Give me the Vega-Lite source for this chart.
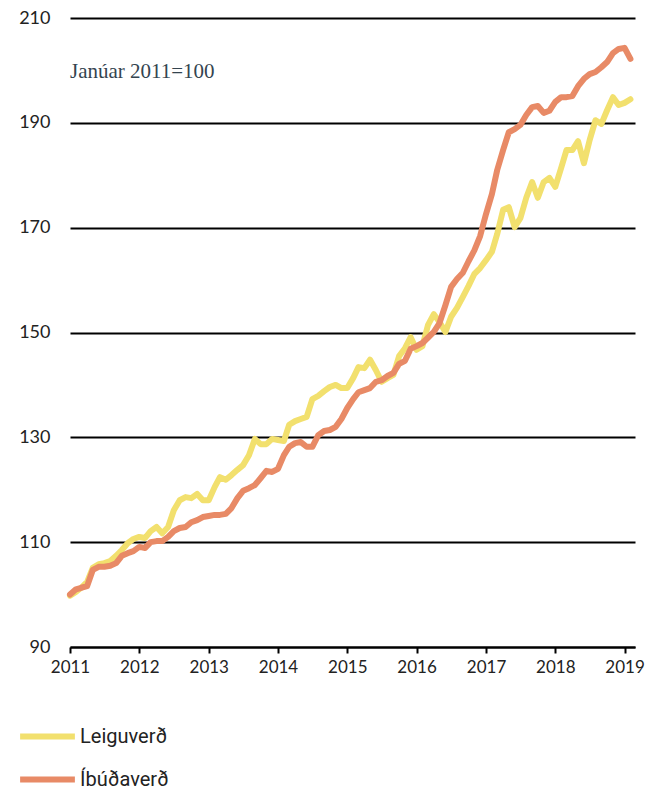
{
  "$schema": "https://vega.github.io/schema/vega-lite/v6.json",
  "autosize": "none",
  "width": 565,
  "height": 629,
  "padding": {"left": 70, "top": 18, "right": 29, "bottom": 142},
  "background": "white",
  "config": {"view": {"stroke": null}},
  "datasets": {
    "idx": [
      {"m":"2011-01-01","Leiguverð":99.8,"Íbúðaverð":100.0},
      {"m":"2011-02-01","Leiguverð":100.5,"Íbúðaverð":101.0},
      {"m":"2011-03-01","Leiguverð":101.3,"Íbúðaverð":101.3},
      {"m":"2011-04-01","Leiguverð":102.4,"Íbúðaverð":101.6},
      {"m":"2011-05-01","Leiguverð":105.1,"Íbúðaverð":104.7},
      {"m":"2011-06-01","Leiguverð":105.8,"Íbúðaverð":105.3},
      {"m":"2011-07-01","Leiguverð":106.0,"Íbúðaverð":105.3},
      {"m":"2011-08-01","Leiguverð":106.4,"Íbúðaverð":105.5},
      {"m":"2011-09-01","Leiguverð":107.4,"Íbúðaverð":106.0},
      {"m":"2011-10-01","Leiguverð":108.5,"Íbúðaverð":107.4},
      {"m":"2011-11-01","Leiguverð":109.8,"Íbúðaverð":107.9},
      {"m":"2011-12-01","Leiguverð":110.6,"Íbúðaverð":108.3},
      {"m":"2012-01-01","Leiguverð":111.0,"Íbúðaverð":109.1},
      {"m":"2012-02-01","Leiguverð":110.8,"Íbúðaverð":108.9},
      {"m":"2012-03-01","Leiguverð":112.1,"Íbúðaverð":110.0},
      {"m":"2012-04-01","Leiguverð":112.9,"Íbúðaverð":110.2},
      {"m":"2012-05-01","Leiguverð":111.7,"Íbúðaverð":110.2},
      {"m":"2012-06-01","Leiguverð":112.9,"Íbúðaverð":111.0},
      {"m":"2012-07-01","Leiguverð":116.1,"Íbúðaverð":112.1},
      {"m":"2012-08-01","Leiguverð":118.0,"Íbúðaverð":112.7},
      {"m":"2012-09-01","Leiguverð":118.6,"Íbúðaverð":112.9},
      {"m":"2012-10-01","Leiguverð":118.4,"Íbúðaverð":113.8},
      {"m":"2012-11-01","Leiguverð":119.2,"Íbúðaverð":114.2},
      {"m":"2012-12-01","Leiguverð":118.0,"Íbúðaverð":114.8},
      {"m":"2013-01-01","Leiguverð":118.0,"Íbúðaverð":115.0},
      {"m":"2013-02-01","Leiguverð":120.5,"Íbúðaverð":115.2},
      {"m":"2013-03-01","Leiguverð":122.4,"Íbúðaverð":115.2},
      {"m":"2013-04-01","Leiguverð":121.9,"Íbúðaverð":115.4},
      {"m":"2013-05-01","Leiguverð":122.8,"Íbúðaverð":116.5},
      {"m":"2013-06-01","Leiguverð":123.8,"Íbúðaverð":118.4},
      {"m":"2013-07-01","Leiguverð":124.7,"Íbúðaverð":119.8},
      {"m":"2013-08-01","Leiguverð":126.6,"Íbúðaverð":120.3},
      {"m":"2013-09-01","Leiguverð":129.7,"Íbúðaverð":120.9},
      {"m":"2013-10-01","Leiguverð":128.7,"Íbúðaverð":122.2},
      {"m":"2013-11-01","Leiguverð":128.7,"Íbúðaverð":123.6},
      {"m":"2013-12-01","Leiguverð":129.7,"Íbúðaverð":123.4},
      {"m":"2014-01-01","Leiguverð":129.5,"Íbúðaverð":124.0},
      {"m":"2014-02-01","Leiguverð":129.3,"Íbúðaverð":126.6},
      {"m":"2014-03-01","Leiguverð":132.4,"Íbúðaverð":128.2},
      {"m":"2014-04-01","Leiguverð":133.1,"Íbúðaverð":128.9},
      {"m":"2014-05-01","Leiguverð":133.5,"Íbúðaverð":129.1},
      {"m":"2014-06-01","Leiguverð":133.9,"Íbúðaverð":128.2},
      {"m":"2014-07-01","Leiguverð":137.3,"Íbúðaverð":128.2},
      {"m":"2014-08-01","Leiguverð":137.9,"Íbúðaverð":130.4},
      {"m":"2014-09-01","Leiguverð":138.8,"Íbúðaverð":131.2},
      {"m":"2014-10-01","Leiguverð":139.6,"Íbúðaverð":131.4},
      {"m":"2014-11-01","Leiguverð":140.0,"Íbúðaverð":132.0},
      {"m":"2014-12-01","Leiguverð":139.4,"Íbúðaverð":133.5},
      {"m":"2015-01-01","Leiguverð":139.4,"Íbúðaverð":135.6},
      {"m":"2015-02-01","Leiguverð":141.3,"Íbúðaverð":137.3},
      {"m":"2015-03-01","Leiguverð":143.4,"Íbúðaverð":138.6},
      {"m":"2015-04-01","Leiguverð":143.2,"Íbúðaverð":139.0},
      {"m":"2015-05-01","Leiguverð":144.8,"Íbúðaverð":139.4},
      {"m":"2015-06-01","Leiguverð":142.8,"Íbúðaverð":140.6},
      {"m":"2015-07-01","Leiguverð":140.6,"Íbúðaverð":140.9},
      {"m":"2015-08-01","Leiguverð":141.3,"Íbúðaverð":141.7},
      {"m":"2015-09-01","Leiguverð":141.9,"Íbúðaverð":142.3},
      {"m":"2015-10-01","Leiguverð":145.5,"Íbúðaverð":144.0},
      {"m":"2015-11-01","Leiguverð":147.0,"Íbúðaverð":144.6},
      {"m":"2015-12-01","Leiguverð":149.1,"Íbúðaverð":146.9},
      {"m":"2016-01-01","Leiguverð":146.7,"Íbúðaverð":147.4},
      {"m":"2016-02-01","Leiguverð":147.4,"Íbúðaverð":148.0},
      {"m":"2016-03-01","Leiguverð":151.4,"Íbúðaverð":149.0},
      {"m":"2016-04-01","Leiguverð":153.5,"Íbúðaverð":150.1},
      {"m":"2016-05-01","Leiguverð":152.0,"Íbúðaverð":151.8},
      {"m":"2016-06-01","Leiguverð":150.1,"Íbúðaverð":155.2},
      {"m":"2016-07-01","Leiguverð":153.0,"Íbúðaverð":158.7},
      {"m":"2016-08-01","Leiguverð":154.7,"Íbúðaverð":160.2},
      {"m":"2016-09-01","Leiguverð":156.8,"Íbúðaverð":161.4},
      {"m":"2016-10-01","Leiguverð":158.9,"Íbúðaverð":163.6},
      {"m":"2016-11-01","Leiguverð":161.2,"Íbúðaverð":165.7},
      {"m":"2016-12-01","Leiguverð":162.3,"Íbúðaverð":168.4},
      {"m":"2017-01-01","Leiguverð":163.8,"Íbúðaverð":172.6},
      {"m":"2017-02-01","Leiguverð":165.4,"Íbúðaverð":176.4},
      {"m":"2017-03-01","Leiguverð":168.8,"Íbúðaverð":181.0},
      {"m":"2017-04-01","Leiguverð":173.4,"Íbúðaverð":184.8},
      {"m":"2017-05-01","Leiguverð":173.9,"Íbúðaverð":188.2},
      {"m":"2017-06-01","Leiguverð":170.1,"Íbúðaverð":188.8},
      {"m":"2017-07-01","Leiguverð":171.8,"Íbúðaverð":189.6},
      {"m":"2017-08-01","Leiguverð":175.7,"Íbúðaverð":191.5},
      {"m":"2017-09-01","Leiguverð":178.7,"Íbúðaverð":193.0},
      {"m":"2017-10-01","Leiguverð":175.7,"Íbúðaverð":193.2},
      {"m":"2017-11-01","Leiguverð":178.7,"Íbúðaverð":191.9},
      {"m":"2017-12-01","Leiguverð":179.5,"Íbúðaverð":192.3},
      {"m":"2018-01-01","Leiguverð":177.8,"Íbúðaverð":194.0},
      {"m":"2018-02-01","Leiguverð":181.4,"Íbúðaverð":194.9},
      {"m":"2018-03-01","Leiguverð":184.8,"Íbúðaverð":194.9},
      {"m":"2018-04-01","Leiguverð":184.8,"Íbúðaverð":195.1},
      {"m":"2018-05-01","Leiguverð":186.5,"Íbúðaverð":197.0},
      {"m":"2018-06-01","Leiguverð":182.3,"Íbúðaverð":198.4},
      {"m":"2018-07-01","Leiguverð":186.7,"Íbúðaverð":199.3},
      {"m":"2018-08-01","Leiguverð":190.5,"Íbúðaverð":199.7},
      {"m":"2018-09-01","Leiguverð":189.8,"Íbúðaverð":200.6},
      {"m":"2018-10-01","Leiguverð":192.4,"Íbúðaverð":201.6},
      {"m":"2018-11-01","Leiguverð":194.9,"Íbúðaverð":203.3},
      {"m":"2018-12-01","Leiguverð":193.4,"Íbúðaverð":204.1},
      {"m":"2019-01-01","Leiguverð":193.8,"Íbúðaverð":204.3},
      {"m":"2019-02-01","Leiguverð":194.5,"Íbúðaverð":202.2}
    ],
    "note": [{"label": "Janúar 2011=100", "m": "2011-01-01", "v": 199.7}]
  },
  "layer": [
    {
      "data": {"name": "idx"},
      "transform": [{"fold": ["Leiguverð", "Íbúðaverð"], "as": ["röð", "gildi"]}],
      "mark": {"type": "line", "strokeWidth": 6, "strokeCap": "round", "strokeJoin": "round"},
      "encoding": {
        "x": {
          "field": "m", "type": "temporal",
          "scale": {"type": "utc", "domain": [{"year": 2011, "month": 1, "date": 1, "utc": true}, {"year": 2019, "month": 2, "date": 25, "utc": true}]},
          "axis": {
            "title": null, "format": "%Y", "grid": false,
            "values": [
              {"year": 2011, "month": 1, "date": 1, "utc": true},
              {"year": 2012, "month": 1, "date": 1, "utc": true},
              {"year": 2013, "month": 1, "date": 1, "utc": true},
              {"year": 2014, "month": 1, "date": 1, "utc": true},
              {"year": 2015, "month": 1, "date": 1, "utc": true},
              {"year": 2016, "month": 1, "date": 1, "utc": true},
              {"year": 2017, "month": 1, "date": 1, "utc": true},
              {"year": 2018, "month": 1, "date": 1, "utc": true},
              {"year": 2019, "month": 1, "date": 1, "utc": true}
            ],
            "domainColor": "#000000", "domainWidth": 2,
            "tickColor": "#000000", "tickWidth": 2, "tickSize": 6,
            "labelFont": "Lato", "labelFontSize": 17, "labelColor": "#222222",
            "labelPadding": 6, "labelFlush": false
          }
        },
        "y": {
          "field": "gildi", "type": "quantitative",
          "scale": {"domain": [90, 210], "nice": false, "zero": false},
          "axis": {
            "title": null, "values": [90, 110, 130, 150, 170, 190, 210],
            "grid": true, "gridColor": "#000000", "gridWidth": 2, "gridOpacity": 1,
            "domain": false, "ticks": false,
            "labelFont": "Lato", "labelFontSize": 18, "labelColor": "#222222",
            "labelPadding": 20
          }
        },
        "color": {
          "field": "röð", "type": "nominal",
          "scale": {"domain": ["Leiguverð", "Íbúðaverð"], "range": ["#f2e06e", "#e88a66"]},
          "legend": {
            "title": null, "orient": "none", "legendX": -53, "legendY": 688,
            "direction": "vertical", "symbolType": "stroke", "symbolStrokeWidth": 6,
            "symbolSize": 3000, "labelFont": "Roboto", "labelFontSize": 20, "labelColor": "#222222",
            "labelOffset": 2, "rowPadding": -17, "symbolOpacity": 1
          }
        }
      }
    },
    {
      "data": {"name": "note"},
      "mark": {"type": "text", "font": "Liberation Serif", "fontSize": 21, "color": "#34444f", "align": "left", "baseline": "middle"},
      "encoding": {
        "x": {"field": "m", "type": "temporal"},
        "y": {"field": "v", "type": "quantitative"},
        "text": {"field": "label"}
      }
    }
  ]
}
